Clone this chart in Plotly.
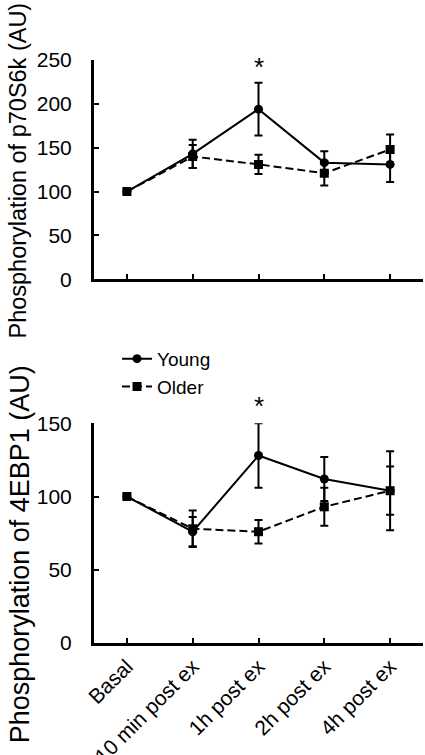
import plotly.graph_objects as go

categories = ["Basal", "10 min post ex", "1h post ex", "2h post ex", "4h post ex"]

# Panel A: p70S6k
p70_young = [100, 143, 194, 133, 131]
p70_young_err = [0, 16, 30, 13, 20]
p70_older = [100, 140, 131, 121, 148]
p70_older_err = [0, 13, 11, 14, 17]

# Panel B: 4EBP1
ebp_young = [100, 76, 128, 112, 104]
ebp_young_err = [0, 10, 22, 15, 27]
ebp_older = [100, 78, 76, 93, 104]
ebp_older_err = [0, 12.5, 8, 13, 16.5]

x_idx = list(range(len(categories)))
FONT = "Liberation Sans, Arial, sans-serif"

fig = go.Figure()

def add_pair(young, yerr, older, oerr, xa, ya, show):
    fig.add_trace(go.Scatter(
        x=x_idx, y=young, mode="lines+markers", name="Young",
        line=dict(color="black", width=2),
        marker=dict(symbol="circle", size=9, color="black"),
        error_y=dict(type="data", array=yerr, visible=True, color="black", thickness=2, width=4),
        xaxis=xa, yaxis=ya, showlegend=show, legendrank=1))
    fig.add_trace(go.Scatter(
        x=x_idx, y=older, mode="lines+markers", name="Older",
        line=dict(color="black", width=2, dash="8px,4px"),
        marker=dict(symbol="square", size=9, color="black"),
        error_y=dict(type="data", array=oerr, visible=True, color="black", thickness=2, width=4),
        xaxis=xa, yaxis=ya, showlegend=show, legendrank=2))

add_pair(p70_young, p70_young_err, p70_older, p70_older_err, "x", "y", False)
add_pair(ebp_young, ebp_young_err, ebp_older, ebp_older_err, "x2", "y2", True)

axis_common = dict(showline=True, linecolor="black", linewidth=3, ticks="inside",
                   ticklen=5, tickwidth=2, tickcolor="black", showgrid=False, zeroline=False,
                   automargin=False,
                   tickfont=dict(family=FONT, size=21, color="black"))

fig.update_layout(
    width=425, height=755,
    margin=dict(l=94, r=2, t=60, b=112, autoexpand=False),
    plot_bgcolor="white", paper_bgcolor="white",
    font=dict(family=FONT, color="black"),
    xaxis=dict(domain=[0, 1], range=[-0.5, 4.5], anchor="y", tickvals=x_idx,
               showticklabels=False, **axis_common),
    yaxis=dict(domain=[0.6238, 1], range=[0, 250], tickvals=[0, 50, 100, 150, 200, 250],
               anchor="x", ticklabelstandoff=15, **axis_common),
    xaxis2=dict(domain=[0, 1], range=[-0.5, 4.5], anchor="y2", tickvals=x_idx,
                ticktext=categories, tickangle=-45, ticklabelshift=0, **axis_common),
    yaxis2=dict(domain=[0, 0.3768], range=[0, 150], tickvals=[0, 50, 100, 150],
                anchor="x2", ticklabelstandoff=15, **axis_common),
    legend=dict(x=0.07, y=0.52, xanchor="left", yanchor="top",
                font=dict(family=FONT, size=19, color="black"),
                bgcolor="rgba(0,0,0,0)", tracegroupgap=0),
    annotations=[
        dict(text="Phosphorylation of p70S6k (AU)", xref="paper", yref="paper",
             x=-0.23, y=0.811, xanchor="center", yanchor="middle", textangle=-90,
             showarrow=False, font=dict(family=FONT, size=23.5, color="black")),
        dict(text="Phosphorylation of 4EBP1 (AU)", xref="paper", yref="paper",
             x=-0.225, y=0.152, xanchor="center", yanchor="middle", textangle=-90,
             showarrow=False, font=dict(family=FONT, size=27, color="black")),
        dict(text="*", xref="x", yref="paper", x=2, y=0.988, xanchor="center",
             yanchor="middle", showarrow=False,
             font=dict(family=FONT, size=26, color="black")),
        dict(text="*", xref="x2", yref="paper", x=2, y=0.4065, xanchor="center",
             yanchor="middle", showarrow=False,
             font=dict(family=FONT, size=26, color="black")),
    ],
)

fig.write_html("out.html", config={"displayModeBar": False},
               post_script="document.body.style.margin='0';document.body.style.padding='0';")
